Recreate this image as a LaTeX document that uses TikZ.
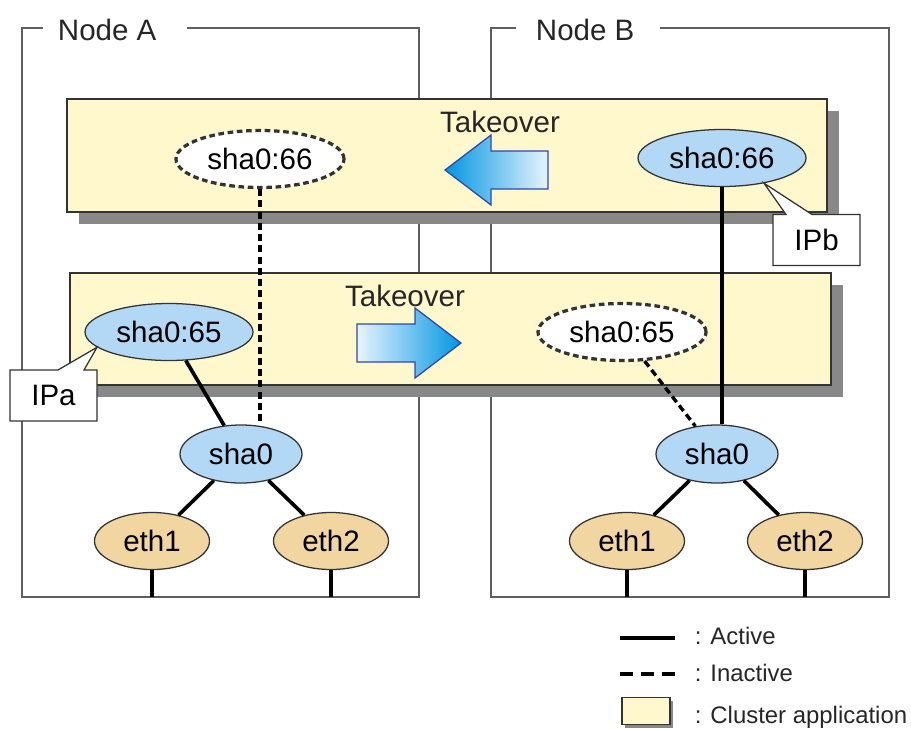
\documentclass[tikz,border=0pt]{standalone}
\usepackage{fontspec}
\setmainfont{Liberation Sans}
\usetikzlibrary{shapes.geometric, shapes.callouts, shadows}

\newlength\pxu
\setlength\pxu{0.025cm}
\newcommand\nodefont{\fontsize{21}{25}\selectfont}
\newcommand\legfont{\fontsize{17}{20}\selectfont}

\definecolor{ipblue}{RGB}{178,216,245}
\definecolor{ethtan}{RGB}{241,214,162}
\definecolor{appyellow}{RGB}{255,248,204}
\definecolor{shadowgray}{RGB}{136,136,136}
\definecolor{framegray}{RGB}{95,95,95}
\definecolor{arrowblue}{RGB}{0,150,225}
\definecolor{arrowpale}{RGB}{232,244,255}
\definecolor{arrowedge}{RGB}{50,70,170}

\begin{document}
\begin{tikzpicture}[
    x=0.025cm, y=-0.025cm,
    frame/.style={draw=framegray, line width=1.1pt},
    appbox/.style={draw=black!80, line width=0.9pt, fill=appyellow, inner sep=0pt},
    appshadow/.style={drop shadow={shadow xshift=#1, shadow yshift=-#1,
        fill=shadowgray, opacity=1}},
    ipnode/.style={
        ellipse, draw=black!80, line width=0.9pt, fill=ipblue, inner sep=0pt,
        minimum width=168\pxu, minimum height=57\pxu, font=\nodefont
    },
    ipoff/.style={ipnode, fill=white, line width=2.3pt, dash pattern=on 4pt off 2.6pt},
    shanode/.style={ipnode, minimum width=122\pxu, minimum height=58\pxu},
    ethnode/.style={ipnode, fill=ethtan, minimum width=115\pxu},
    ipcall/.style={
        rectangle callout, draw=black!80, line width=0.9pt, fill=white,
        minimum width=87\pxu, minimum height=51\pxu,
        callout pointer width=26\pxu, font=\nodefont
    },
    active/.style={line width=2.6pt},
    inactive/.style={line width=2.4pt, dash pattern=on 5pt off 3pt},
    bigarrow/.style={draw=arrowedge, line width=0.9pt},
    lbl/.style={font=\nodefont, text=black!85, anchor=base},
    leg/.style={font=\legfont, text=black!85, anchor=base west}
]
\useasboundingbox (0,0) rectangle (911,729);

% Node frames
\draw[frame] (43,28) -- (22,28) -- (22,597) coordinate (botA) -- (419,597) -- (419,28) -- (187,28);
\node[lbl, anchor=base west] (nodeA) at (53,40) {Node A};
\draw[frame] (516,28) -- (491,28) -- (491,597) coordinate (botB) -- (889,597) -- (889,28) -- (660,28);
\node[lbl, anchor=base west] (nodeB) at (531,40) {Node B};

% Cluster applications
\node[appbox, appshadow=12\pxu, minimum width=760\pxu, minimum height=113\pxu] (appTop) at (447,155.5) {};
\node[appbox, appshadow=12\pxu, minimum width=761\pxu, minimum height=112\pxu] (appLow) at (450.5,329) {};

\shade[bigarrow, left color=arrowblue, right color=arrowpale]
    (445,170) -- (491,135) -- (491,151) -- (548,151) -- (548,189) -- (491,189) -- (491,205) -- cycle;
\shade[bigarrow, left color=arrowpale, right color=arrowblue]
    (461,343) -- (415,308) -- (415,324) -- (357,324) -- (357,362) -- (415,362) -- (415,378) -- cycle;
\node[lbl] (takeTop) at (500,132) {Takeover};
\node[lbl] (takeLow) at (405,306) {Takeover};

% Interfaces
\node[ipoff] (sha66a) at (260,159) {sha0:66};
\node[ipnode] (sha66b) at (722,158) {sha0:66};
\node[ipnode] (sha65a) at (169,332) {sha0:65};
\node[ipoff] (sha65b) at (622,332) {sha0:65};
\node[shanode] (sha0a) at (241,454) {sha0};
\node[shanode] (sha0b) at (717,454) {sha0};
\node[ethnode] (eth1a) at (152,541) {eth1};
\node[ethnode] (eth2a) at (331,541) {eth2};
\node[ethnode] (eth1b) at (627,541) {eth1};
\node[ethnode] (eth2b) at (805,541) {eth2};

% Links
\draw[active] (sha65a) -- (sha0a);
\draw[inactive] (sha65b) -- (sha0b);
\draw[inactive] (sha66a.south) -- (sha66a.south |- sha0a.north);
\draw[active] (sha66b.south) -- (sha66b.south |- sha0b.north);
\foreach \s/\e in {sha0a/eth1a, sha0a/eth2a, sha0b/eth1b, sha0b/eth2b}
    \draw[active] (\s) -- (\e);
\foreach \e/\b in {eth1a/botA, eth2a/botA, eth1b/botB, eth2b/botB}
    \draw[active] (\e.south) -- (\e.south |- \b);

% Takeover addresses
\node[ipcall, callout absolute pointer={(sha65a.192)}] (ipa) at (53.5,395.5) {IPa};
\node[ipcall, callout absolute pointer={(sha66b.-31)}] (ipb) at (816.5,240) {IPb};

% Legend
\coordinate (legA1) at (620,638);
\coordinate (legA2) at (675,638);
\coordinate (legI1) at (620,674);
\coordinate (legI2) at (675,674);
\draw[active] (legA1) -- (legA2);
\draw[line width=2.6pt, dash pattern=on 9.2pt off 5.7pt] (legI1) -- (legI2);
\node[appbox, appshadow=3\pxu, minimum width=48\pxu, minimum height=27\pxu] (legBox) at (646,711) {};
\node[leg] (legActive) at (690,644) {: Active};
\node[leg] (legInactive) at (690,681) {: Inactive};
\node[leg] (legCluster) at (690,723) {: Cluster application};

\end{tikzpicture}
\end{document}
